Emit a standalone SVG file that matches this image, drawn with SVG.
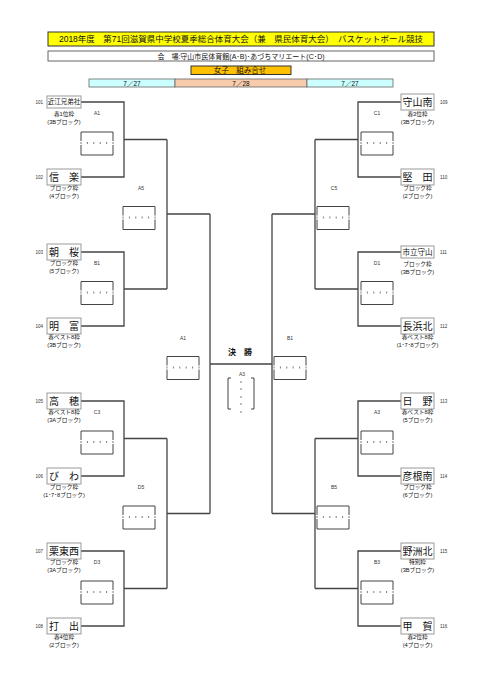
<svg xmlns="http://www.w3.org/2000/svg" xmlns:xlink="http://www.w3.org/1999/xlink" width="481" height="680" viewBox="0 0 481 680">
<style>
text{font-family:"Liberation Sans","Noto Sans CJK JP",sans-serif;fill:#111;text-anchor:middle}
.tb{fill:#fff;stroke:#999;stroke-width:1}
.nm{font-size:10px}
.ns{font-size:6.5px}
.sub{font-size:5.7px}
.id{font-size:4.5px;fill:#333}
.lb{font-size:5px;fill:#333}
.con{fill:none;stroke:#444;stroke-width:1.3}
.sbx{fill:none;stroke:#444;stroke-width:1}
.tk{fill:none;stroke:#444;stroke-width:0.7}
</style>
<defs>
<g id="sb">
<path class="sbx" d="M0,1.5V-7.5H32V1.5M0,5.5V15.5H32V5.5"/>
<path class="tk" d="M0,2.5v2M6.4,2.5v2M12.8,2.5v2M19.2,2.5v2M25.6,2.5v2M32,2.5v2"/>
</g>
</defs>
<rect width="481" height="680" fill="#fff"/>
<g id="header">
<rect x="48" y="32" width="386" height="14" fill="#FFFF00" stroke="#333" stroke-width="1"/>
<text x="241" y="42.3" style="font-size:8.5px">2018年度　第71回滋賀県中学校夏季総合体育大会（兼　県民体育大会）　バスケットボール競技</text>
<rect x="48" y="51" width="386" height="10" fill="#fff" stroke="#666" stroke-width="1"/>
<text x="241" y="58.7" style="font-size:7px">会　場:守山市民体育館(A･B)･あづちマリエート(C･D)</text>
<rect x="191" y="66" width="100" height="8.5" fill="#FFC000" stroke="#333" stroke-width="1"/>
<text x="240" y="73" style="font-size:7.5px">女子　組み合せ</text>
<rect x="89" y="79" width="86" height="8" fill="#CCFFFF" stroke="#666" stroke-width="0.8"/>
<rect x="175" y="79" width="132" height="8" fill="#F8CBAD" stroke="#666" stroke-width="0.8"/>
<rect x="307" y="79" width="86" height="8" fill="#CCFFFF" stroke="#666" stroke-width="0.8"/>
<text x="132" y="85.5" style="font-size:6.5px">7／27</text>
<text x="241" y="85.5" style="font-size:6.5px">7／28</text>
<text x="350" y="85.5" style="font-size:6.5px">7／27</text>
</g>
<g id="connectors">
<path class="con" d="M81,102H124V177H81M124,139.5H167M81,252H124V326H81M124,289H167M81,401H124V476H81M124,438.5H167M81,551H124V626H81M124,588.5H167M167,139.5V289M167,214H210M167,438.5V588.5M167,513.5H210M210,214V513.5M210,364H272"/>
<path class="con" d="M401,102H358V177H401M358,139.5H315M401,252H358V326H401M358,289H315M401,401H358V476H401M358,438.5H315M401,551H358V626H401M358,588.5H315M315,139.5V289M315,214H272M315,438.5V588.5M315,513.5H272M272,214V513.5"/>
</g>
<g id="scores">
<use xlink:href="#sb" x="81" y="139.5"/>
<use xlink:href="#sb" x="81" y="289"/>
<use xlink:href="#sb" x="81" y="438.5"/>
<use xlink:href="#sb" x="81" y="588.5"/>
<use xlink:href="#sb" x="123" y="214"/>
<use xlink:href="#sb" x="123" y="513.5"/>
<use xlink:href="#sb" x="167" y="364"/>
<use xlink:href="#sb" x="361" y="139.5"/>
<use xlink:href="#sb" x="361" y="289"/>
<use xlink:href="#sb" x="361" y="438.5"/>
<use xlink:href="#sb" x="361" y="588.5"/>
<use xlink:href="#sb" x="317" y="214"/>
<use xlink:href="#sb" x="317" y="513.5"/>
<use xlink:href="#sb" x="274" y="364"/>
<path class="sbx" d="M231,378H228V409H231M251,378H254V409H251"/>
<path class="tk" d="M240,382h2M240,389h2M240,397h2M240,404h2M240,412h2"/>
<text class="lb" x="97" y="115">A1</text>
<text class="lb" x="97" y="264.5">B1</text>
<text class="lb" x="97" y="414">C3</text>
<text class="lb" x="97" y="564">D3</text>
<text class="lb" x="141" y="189.5">A5</text>
<text class="lb" x="141" y="489">D5</text>
<text class="lb" x="183" y="339.5">A1</text>
<text class="lb" x="377" y="115">C1</text>
<text class="lb" x="377" y="264.5">D1</text>
<text class="lb" x="377" y="414">A3</text>
<text class="lb" x="377" y="564">B3</text>
<text class="lb" x="334" y="189.5">C5</text>
<text class="lb" x="334" y="489">B5</text>
<text class="lb" x="290" y="339.5">B1</text>
<text class="lb" x="242" y="376">A3</text>
<text x="240" y="355" style="font-size:8px;font-weight:bold">決　勝</text>
</g>
<g id="t101"><rect class="tb" x="47" y="96" width="34" height="12"/><text class="ns" x="64" y="104.3">近江兄弟社</text><text class="id" x="43" y="103.5" style="text-anchor:end">101</text><text class="sub" x="64" y="116">春1位枠</text><text class="sub" x="64" y="124">(3Bブロック)</text></g>
<g id="t102"><rect class="tb" x="47" y="169" width="34" height="16"/><text class="nm" x="64" y="180.7">信　楽</text><text class="id" x="43" y="178.5" style="text-anchor:end">102</text><text class="sub" x="64" y="189.5">ブロック枠</text><text class="sub" x="64" y="197.5">(4ブロック)</text></g>
<g id="t103"><rect class="tb" x="47" y="244" width="34" height="16"/><text class="nm" x="64" y="255.7">朝　桜</text><text class="id" x="43" y="253.5" style="text-anchor:end">103</text><text class="sub" x="64" y="264.5">ブロック枠</text><text class="sub" x="64" y="272.5">(5ブロック)</text></g>
<g id="t104"><rect class="tb" x="47" y="318" width="34" height="16"/><text class="nm" x="64" y="329.7">明　富</text><text class="id" x="43" y="327.5" style="text-anchor:end">104</text><text class="sub" x="64" y="338.5">春ベスト8枠</text><text class="sub" x="64" y="346.5">(3Bブロック)</text></g>
<g id="t105"><rect class="tb" x="47" y="393" width="34" height="16"/><text class="nm" x="64" y="404.7">高　穂</text><text class="id" x="43" y="402.5" style="text-anchor:end">105</text><text class="sub" x="64" y="413.5">春ベスト8枠</text><text class="sub" x="64" y="421.5">(3Aブロック)</text></g>
<g id="t106"><rect class="tb" x="47" y="468" width="34" height="16"/><text class="nm" x="64" y="479.7">び　わ</text><text class="id" x="43" y="477.5" style="text-anchor:end">106</text><text class="sub" x="64" y="488.5">ブロック枠</text><text class="sub" x="64" y="496.5">(1･7･8ブロック)</text></g>
<g id="t107"><rect class="tb" x="47" y="543" width="34" height="16"/><text class="nm" x="64" y="554.7">栗東西</text><text class="id" x="43" y="552.5" style="text-anchor:end">107</text><text class="sub" x="64" y="563.5">ブロック枠</text><text class="sub" x="64" y="571.5">(3Aブロック)</text></g>
<g id="t108"><rect class="tb" x="47" y="618" width="34" height="16"/><text class="nm" x="64" y="629.7">打　出</text><text class="id" x="43" y="627.5" style="text-anchor:end">108</text><text class="sub" x="64" y="638.5">春4位枠</text><text class="sub" x="64" y="646.5">(2ブロック)</text></g>
<g id="t109"><rect class="tb" x="401" y="94" width="33" height="16"/><text class="nm" x="417.5" y="105.7">守山南</text><text class="id" x="440" y="103.5" style="text-anchor:start">109</text><text class="sub" x="417.5" y="115.5">春3位枠</text><text class="sub" x="417.5" y="123.5">(3Bブロック)</text></g>
<g id="t110"><rect class="tb" x="401" y="169" width="33" height="16"/><text class="nm" x="417.5" y="180.7">堅　田</text><text class="id" x="440" y="178.5" style="text-anchor:start">110</text><text class="sub" x="417.5" y="189.5">ブロック枠</text><text class="sub" x="417.5" y="197.5">(2ブロック)</text></g>
<g id="t111"><rect class="tb" x="401" y="246" width="33" height="12"/><text class="ns" x="417.5" y="254.5" style="font-size:7.5px">市立守山</text><text class="id" x="440" y="253.5" style="text-anchor:start">111</text><text class="sub" x="417.5" y="265.5">ブロック枠</text><text class="sub" x="417.5" y="273.5">(3Bブロック)</text></g>
<g id="t112"><rect class="tb" x="401" y="318" width="33" height="16"/><text class="nm" x="417.5" y="329.7">長浜北</text><text class="id" x="440" y="327.5" style="text-anchor:start">112</text><text class="sub" x="417.5" y="338.5">春ベスト8枠</text><text class="sub" x="417.5" y="346.5">(1･7･8ブロック)</text></g>
<g id="t113"><rect class="tb" x="401" y="393" width="33" height="16"/><text class="nm" x="417.5" y="404.7">日　野</text><text class="id" x="440" y="402.5" style="text-anchor:start">113</text><text class="sub" x="417.5" y="413.5">春ベスト8枠</text><text class="sub" x="417.5" y="421.5">(5ブロック)</text></g>
<g id="t114"><rect class="tb" x="401" y="468" width="33" height="16"/><text class="nm" x="417.5" y="479.7">彦根南</text><text class="id" x="440" y="477.5" style="text-anchor:start">114</text><text class="sub" x="417.5" y="488.5">ブロック枠</text><text class="sub" x="417.5" y="496.5">(6ブロック)</text></g>
<g id="t115"><rect class="tb" x="401" y="543" width="33" height="16"/><text class="nm" x="417.5" y="554.7">野洲北</text><text class="id" x="440" y="552.5" style="text-anchor:start">115</text><text class="sub" x="417.5" y="563.5">特別枠</text><text class="sub" x="417.5" y="571.5">(3Bブロック)</text></g>
<g id="t116"><rect class="tb" x="401" y="618" width="33" height="16"/><text class="nm" x="417.5" y="629.7">甲　賀</text><text class="id" x="440" y="627.5" style="text-anchor:start">116</text><text class="sub" x="417.5" y="638.5">春2位枠</text><text class="sub" x="417.5" y="646.5">(4ブロック)</text></g>
</svg>
